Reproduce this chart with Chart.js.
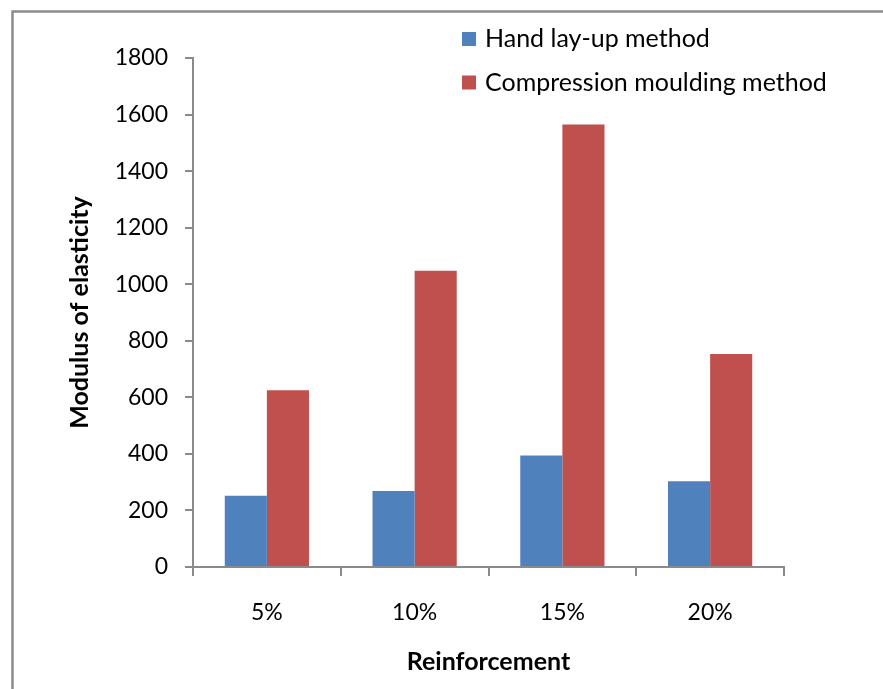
<!DOCTYPE html>
<html>
<head>
<meta charset="utf-8">
<script src="https://cdn.jsdelivr.net/npm/chart.js@4/dist/chart.umd.min.js"></script>
<style>
  html, body { margin: 0; padding: 0; background: #fff; }
  #wrap { width: 883px; height: 689px; position: relative; }
</style>
</head>
<body>
<div id="wrap"><canvas id="c" width="883" height="689"></canvas></div>
<script>
const categories = ['5%', '10%', '15%', '20%'];
const handLayUp = [252, 269, 394, 303];
const compressionMoulding = [625, 1048, 1565, 753];
const seriesNames = ['Hand lay-up method', 'Compression moulding method'];
const yTicks = [0, 200, 400, 600, 800, 1000, 1200, 1400, 1600, 1800];

const FONT = 'Lato, "Open Sans", sans-serif';
const AXIS_GRAY = '#8a8a8a';

const framePlugin = {
  id: 'frame',
  beforeDraw(chart) {
    const ctx = chart.ctx;
    ctx.save();
    ctx.fillStyle = '#ffffff';
    ctx.fillRect(0, 0, chart.width, chart.height);
    ctx.strokeStyle = '#8c8c8c';
    ctx.lineWidth = 2.5;
    ctx.beginPath();
    ctx.moveTo(12.5, chart.height + 2);
    ctx.lineTo(12.5, 11.5);
    ctx.lineTo(chart.width + 2, 11.5);
    ctx.stroke();
    ctx.restore();
  }
};

const legendPlugin = {
  id: 'customLegend',
  afterDraw(chart) {
    const ctx = chart.ctx;
    ctx.save();
    ctx.font = '25px ' + FONT;
    ctx.textBaseline = 'alphabetic';
    ctx.textAlign = 'left';
    const rows = [47, 90.5];
    chart.data.datasets.forEach((ds, i) => {
      ctx.fillStyle = ds.backgroundColor;
      ctx.fillRect(462, rows[i] - 15, 14, 14);
      ctx.fillStyle = '#000';
      ctx.fillText(ds.label, 485, rows[i]);
    });
    ctx.restore();
  }
};

new Chart(document.getElementById('c'), {
  type: 'bar',
  data: {
    labels: categories,
    datasets: [
      { label: seriesNames[0], data: handLayUp, backgroundColor: '#4F81BD', borderWidth: 0 },
      { label: seriesNames[1], data: compressionMoulding, backgroundColor: '#C0504D', borderWidth: 0 }
    ]
  },
  options: {
    responsive: false,
    animation: false,
    devicePixelRatio: 1,
    layout: { padding: { left: 0, top: 58, right: 99, bottom: 0 } },
    datasets: { bar: { barPercentage: 1.0, categoryPercentage: 0.57 } },
    plugins: {
      legend: { display: false },
      tooltip: { enabled: false }
    },
    scales: {
      x: {
        grid: { display: true, drawOnChartArea: false, drawTicks: true, tickLength: 9, color: AXIS_GRAY, lineWidth: 2, offset: true },
        border: { display: true, color: AXIS_GRAY, width: 2 },
        ticks: { color: '#000', font: { family: FONT, size: 23 }, padding: 23 },
        title: { display: true, text: 'Reinforcement', color: '#000', font: { family: FONT, size: 25, weight: 'bold' }, padding: { top: 0, bottom: 12 } },
        afterFit(scale) { scale.height = 122; }
      },
      y: {
        min: 0, max: 1800,
        afterBuildTicks(scale) { scale.ticks = yTicks.map(v => ({ value: v })); },
        grid: { display: true, drawOnChartArea: false, drawTicks: true, tickLength: 8, color: AXIS_GRAY, lineWidth: 2 },
        border: { display: true, color: AXIS_GRAY, width: 2 },
        ticks: { color: '#000', font: { family: FONT, size: 23 }, padding: 17, callback: (v) => String(v) },
        title: { display: true, text: 'Modulus of elasticity', color: '#000', font: { family: FONT, size: 25, weight: 'bold' }, padding: { top: 65, bottom: 0 } },
        afterFit(scale) { scale.width = 193; }
      }
    }
  },
  plugins: [framePlugin, legendPlugin]
});
</script>
</body>
</html>
